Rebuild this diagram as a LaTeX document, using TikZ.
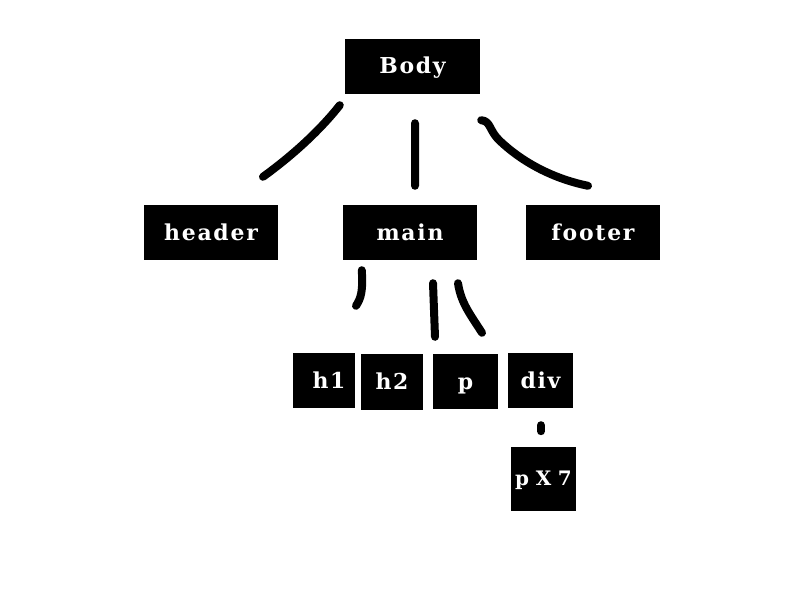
\documentclass[tikz,border=0pt]{standalone}
\usepackage{fontspec}
\setmainfont{DejaVu Serif}
\begin{document}
\begin{tikzpicture}[x=1bp,y=-1bp,
  box/.style={fill=black,text=white,inner sep=0pt,minimum height=55bp,
    text height=15bp,text depth=0bp,
    font=\bfseries\fontsize{22}{22}\selectfont\addfontfeature{LetterSpace=8}},
  wire/.style={line width=8bp,line cap=round,line join=round,black}]
\useasboundingbox[fill=white] (0,0) rectangle (792,612);
\node[box,minimum width=135bp] (Body) at (412.5,66.5) {Body};
\node[box,minimum width=134bp] (header) at (211,232.5) {header};
\node[box,minimum width=134bp] (main) at (410,232.5) {main};
\node[box,minimum width=134bp] (footer) at (593,232.5) {footer};
\node[box,minimum width=62bp] (h1) at (324,380.5) {\hspace*{10bp}h1};
\node[box,minimum width=62bp,minimum height=56bp] (h2) at (392,382) {h2};
\node[box,minimum width=65bp] (p) at (465.5,381.5) {p};
\node[box,minimum width=65bp] (div) at (540.5,380.5) {div};
\node[box,minimum width=65bp,minimum height=64bp,text height=12bp,
  text width=65bp,align=center,font=\bfseries\fontsize{20}{20}\selectfont] (px) at (543.5,479) {p X 7};
% connectors
\draw[wire] ([shift={(-5,11)}]Body.south west) .. controls (325,124) and (300,150) .. ([shift={(52,-28)}]header.north);
\draw[wire] ([shift={(2.5,29)}]Body.south) -- ([shift={(5,-19)}]main.north);
\draw[wire] ([shift={(1,26)}]Body.south east) .. controls (491,121) and (489,131) .. (500,141)
  .. controls (520,160) and (550,178) .. ([shift={(-5,-19)}]footer.north);
\draw[wire] ([shift={(19,10)}]main.south west) .. controls (363,292) and (361,298) .. ([shift={(32,-47)}]h1.north);
\draw[wire] ([shift={(23,23)}]main.south) -- ([shift={(-30.5,-17)}]p.north);
\draw[wire] ([shift={(48,23)}]main.south) .. controls (461,303) and (470,314) .. ([shift={(16.5,-21)}]p.north);
\draw[wire] ([shift={(0.5,17)}]div.south) -- ([shift={(0.5,23)}]div.south);
\end{tikzpicture}
\end{document}
